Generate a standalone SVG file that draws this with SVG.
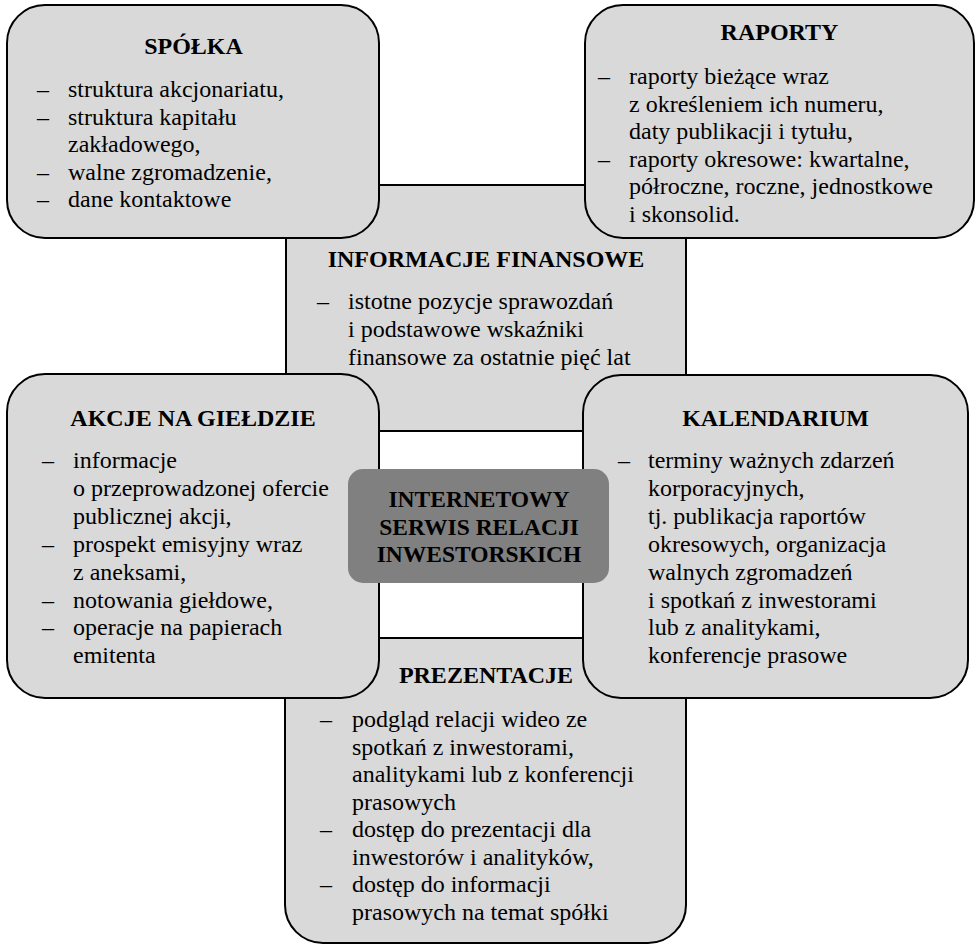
<svg xmlns="http://www.w3.org/2000/svg" width="976" height="946" viewBox="0 0 976 946">
<style>
.box{fill:#d9d9d9;stroke:#000;stroke-width:2}
.core{fill:#808080;stroke:none}
.t{font-family:"Liberation Serif","Times New Roman",serif;font-size:24px;fill:#000}
.h{font-family:"Liberation Serif","Times New Roman",serif;font-size:24px;font-weight:bold;fill:#000;text-anchor:middle}
.c{font-family:"Liberation Serif","Times New Roman",serif;font-size:23.5px;font-weight:bold;fill:#000;text-anchor:middle}
</style>
<rect width="976" height="946" fill="#fff"/>
<g id="informacje">
<rect class="box" x="286" y="185" width="400" height="246"/>
<text class="h" x="486" y="267">INFORMACJE FINANSOWE</text>
<text class="t" x="317" y="309">–</text>
<text class="t" x="348" y="309">istotne pozycje sprawozdań</text>
<text class="t" x="348" y="337">i podstawowe wskaźniki</text>
<text class="t" x="348" y="365">finansowe za ostatnie pięć lat</text>
</g>
<g id="prezentacje">
<rect class="box" x="285" y="600" width="401" height="343" rx="38"/>
<text class="h" x="486" y="683">PREZENTACJE</text>
<text class="t" x="320" y="727">–</text>
<text class="t" x="352" y="727">podgląd relacji wideo ze</text>
<text class="t" x="352" y="754.5">spotkań z inwestorami,</text>
<text class="t" x="352" y="782">analitykami lub z konferencji</text>
<text class="t" x="352" y="809.5">prasowych</text>
<text class="t" x="320" y="837">–</text>
<text class="t" x="352" y="837">dostęp do prezentacji dla</text>
<text class="t" x="352" y="864.5">inwestorów i analityków,</text>
<text class="t" x="320" y="892">–</text>
<text class="t" x="352" y="892">dostęp do informacji</text>
<text class="t" x="352" y="919.5">prasowych na temat spółki</text>
</g>
<line x1="379" y1="638" x2="583" y2="638" stroke="#000" stroke-width="2"/>
<rect x="380" y="432" width="202" height="205" fill="#fff"/>
<g id="spolka">
<rect class="box" x="7" y="5" width="372" height="233" rx="38"/>
<text class="h" x="193.5" y="54">SPÓŁKA</text>
<text class="t" x="37" y="97">–</text>
<text class="t" x="68" y="97">struktura akcjonariatu,</text>
<text class="t" x="37" y="124.5">–</text>
<text class="t" x="68" y="124.5">struktura kapitału</text>
<text class="t" x="68" y="152">zakładowego,</text>
<text class="t" x="37" y="179.5">–</text>
<text class="t" x="68" y="179.5">walne zgromadzenie,</text>
<text class="t" x="37" y="207">–</text>
<text class="t" x="68" y="207">dane kontaktowe</text>
</g>
<g id="raporty">
<rect class="box" x="585" y="5" width="389" height="233" rx="38"/>
<text class="h" x="779.5" y="40">RAPORTY</text>
<text class="t" x="598" y="84">–</text>
<text class="t" x="629" y="84">raporty bieżące wraz</text>
<text class="t" x="629" y="111.5">z określeniem ich numeru,</text>
<text class="t" x="629" y="139">daty publikacji i tytułu,</text>
<text class="t" x="598" y="166.5">–</text>
<text class="t" x="629" y="166.5">raporty okresowe: kwartalne,</text>
<text class="t" x="629" y="194">półroczne, roczne, jednostkowe</text>
<text class="t" x="629" y="221.5">i skonsolid.</text>
</g>
<g id="akcje">
<rect class="box" x="7" y="374" width="372" height="324" rx="38"/>
<text class="h" x="193" y="426">AKCJE NA GIEŁDZIE</text>
<text class="t" x="42" y="468">–</text>
<text class="t" x="73" y="468">informacje</text>
<text class="t" x="73" y="496">o przeprowadzonej ofercie</text>
<text class="t" x="73" y="524">publicznej akcji,</text>
<text class="t" x="42" y="552">–</text>
<text class="t" x="73" y="552">prospekt emisyjny wraz</text>
<text class="t" x="73" y="580">z aneksami,</text>
<text class="t" x="42" y="608">–</text>
<text class="t" x="73" y="608">notowania giełdowe,</text>
<text class="t" x="42" y="635">–</text>
<text class="t" x="73" y="635">operacje na papierach</text>
<text class="t" x="73" y="663">emitenta</text>
</g>
<g id="kalendarium">
<rect class="box" x="583" y="375" width="385" height="323" rx="38"/>
<text class="h" x="775.5" y="426">KALENDARIUM</text>
<text class="t" x="618" y="468">–</text>
<text class="t" x="648" y="468">terminy ważnych zdarzeń</text>
<text class="t" x="648" y="496">korporacyjnych,</text>
<text class="t" x="648" y="524">tj. publikacja raportów</text>
<text class="t" x="648" y="552">okresowych, organizacja</text>
<text class="t" x="648" y="580">walnych zgromadzeń</text>
<text class="t" x="648" y="608">i spotkań z inwestorami</text>
<text class="t" x="648" y="635">lub z analitykami,</text>
<text class="t" x="648" y="663">konferencje prasowe</text>
</g>
<g id="centrum">
<rect class="core" x="348" y="469" width="261" height="114" rx="15"/>
<text class="c" x="479" y="507">INTERNETOWY</text>
<text class="c" x="479" y="534.5">SERWIS RELACJI</text>
<text class="c" x="479" y="562">INWESTORSKICH</text>
</g>
</svg>
